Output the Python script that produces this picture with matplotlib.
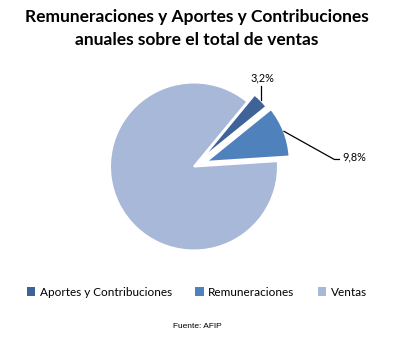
import numpy as np
import matplotlib.pyplot as plt
from matplotlib.patches import Patch

categorias = ['Aportes y Contribuciones', 'Remuneraciones', 'Ventas']
valores = [3.2, 9.8, 87.0]
colores = ['#3D6399', '#4F81BD', '#A8B8D8']
separacion = [0.12, 0.15, 0.0]

plt.rcParams['font.family'] = ['Lato', 'DejaVu Sans']

W, H = 394, 340
fig = plt.figure(figsize=(W / 100, H / 100), dpi=100)

# pie centre and radius in pixels
cx, cy, R = 194.0, 166.5, 84.0
side = 230.0
ax = fig.add_axes([(cx - side / 2) / W, (H - cy - side / 2) / H, side / W, side / H])

inicio = 50.5
wedges, _ = ax.pie(valores, colors=colores, explode=separacion, startangle=inicio,
                   counterclock=False, radius=1.0,
                   wedgeprops=dict(edgecolor='white', linewidth=1.5))
lim = side / 2 / R
ax.set_xlim(-lim, lim)
ax.set_ylim(-lim, lim)
ax.set_aspect('equal')
ax.axis('off')

def borde(w):
    # point on the outer arc in the middle of a wedge
    ang = np.deg2rad((w.theta1 + w.theta2) / 2)
    return w.center[0] + np.cos(ang), w.center[1] + np.sin(ang)

# 3,2% label
x0, y0 = borde(wedges[0])
ax.plot([x0, x0], [y0, y0 + 0.17], color='black', lw=0.9, clip_on=False)
ax.text(x0 + 0.02, y0 + 0.2, f'{valores[0]:.1f}%'.replace('.', ','),
        ha='center', va='bottom', fontsize=7.8, clip_on=False)

# 9,8% label
x1, y1 = borde(wedges[1])
ax.plot([x1, x1 + 0.6, x1 + 0.66], [y1, y1 - 0.335, y1 - 0.335], color='black', lw=0.9,
        clip_on=False)
ax.text(x1 + 0.69, y1 - 0.31, f'{valores[1]:.1f}%'.replace('.', ','),
        ha='left', va='center', fontsize=7.8, clip_on=False)

fig.text(0.5, 1 - 17 / H, 'Remuneraciones y Aportes y Contribuciones', ha='center',
         va='center', fontsize=12.5, fontweight='bold')
fig.text(0.5, 1 - 40 / H, 'anuales sobre el total de ventas', ha='center',
         va='center', fontsize=12.5, fontweight='bold')

handles = [Patch(facecolor=c, edgecolor='none') for c in colores]
fig.legend(handles, categorias, loc='center', bbox_to_anchor=(0.5, 1 - 292 / H),
           ncol=3, frameon=False, fontsize=8.5, handlelength=0.7, handleheight=0.7,
           handletextpad=0.4, columnspacing=2.0)

fig.text(0.5, 1 - 327 / H, 'Fuente: AFIP', ha='center', va='center', fontsize=6,
         family='Liberation Sans')

fig.savefig('out.png', dpi=100)
